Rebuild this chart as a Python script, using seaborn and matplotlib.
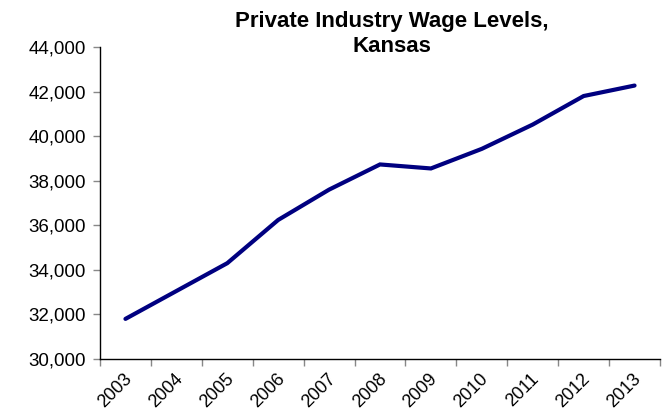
import matplotlib
matplotlib.use("Agg")
import matplotlib.pyplot as plt
import matplotlib.transforms as mtransforms
import seaborn as sns
import pandas as pd
from matplotlib.ticker import FuncFormatter, MultipleLocator

years = [2003, 2004, 2005, 2006, 2007, 2008, 2009, 2010, 2011, 2012, 2013]
wages = [31800, 33050, 34300, 36240, 37600, 38730, 38550, 39430, 40520, 41800, 42270]
title = "Private Industry Wage Levels,\nKansas"

sns.set_style("white")
plt.rcParams['font.family'] = ['Liberation Sans', 'DejaVu Sans']
plt.rcParams['text.color'] = 'black'
plt.rcParams['xtick.labelcolor'] = 'black'
plt.rcParams['ytick.labelcolor'] = 'black'

df = pd.DataFrame({"year": years, "wage": wages})

fig = plt.figure(figsize=(6.63, 4.15), dpi=100)
ax = fig.add_axes([100/663, 1 - 359/415, 560/663, (359 - 47)/415])

sns.lineplot(data=df, x="year", y="wage", ax=ax, color="#000080",
             linewidth=3.0, solid_capstyle="round", solid_joinstyle="miter")

ax.set_xlim(years[0] - 0.5, years[-1] + 0.5)
ax.set_ylim(30000, 44000)
ax.yaxis.set_major_locator(MultipleLocator(2000))
ax.yaxis.set_major_formatter(FuncFormatter(lambda v, p: f"{int(v):,}"))

ax.set_xticks(years)
ax.set_xticklabels([str(y) for y in years], rotation=45, ha="right",
                   rotation_mode="anchor", fontsize=13, color="black")
ax.set_xticks([y - 0.5 for y in years] + [years[-1] + 0.5], minor=True)
ax.tick_params(axis="x", which="major", length=0, pad=8)
ax.tick_params(axis="x", which="minor", length=5, width=1, color="#888888", direction="out", bottom=True)
ax.tick_params(axis="y", which="major", length=5, width=1, color="#888888", direction="out", left=True, labelsize=13.5, pad=5, labelcolor="black")

offset = mtransforms.ScaledTranslation(-2/100, 0, fig.dpi_scale_trans)
for lab in ax.get_xticklabels():
    lab.set_transform(lab.get_transform() + offset)

ax.set_xlabel("")
ax.set_ylabel("")
for s in ["top", "right"]:
    ax.spines[s].set_visible(False)
for s in ["left", "bottom"]:
    ax.spines[s].set_color("black")
    ax.spines[s].set_linewidth(1.0)

fig.text(392/663, 1 - 34/415, title, ha="center", va="center",
         fontsize=16, fontweight="bold", linespacing=1.2, color="black")

fig.savefig("out.png", dpi=100)
